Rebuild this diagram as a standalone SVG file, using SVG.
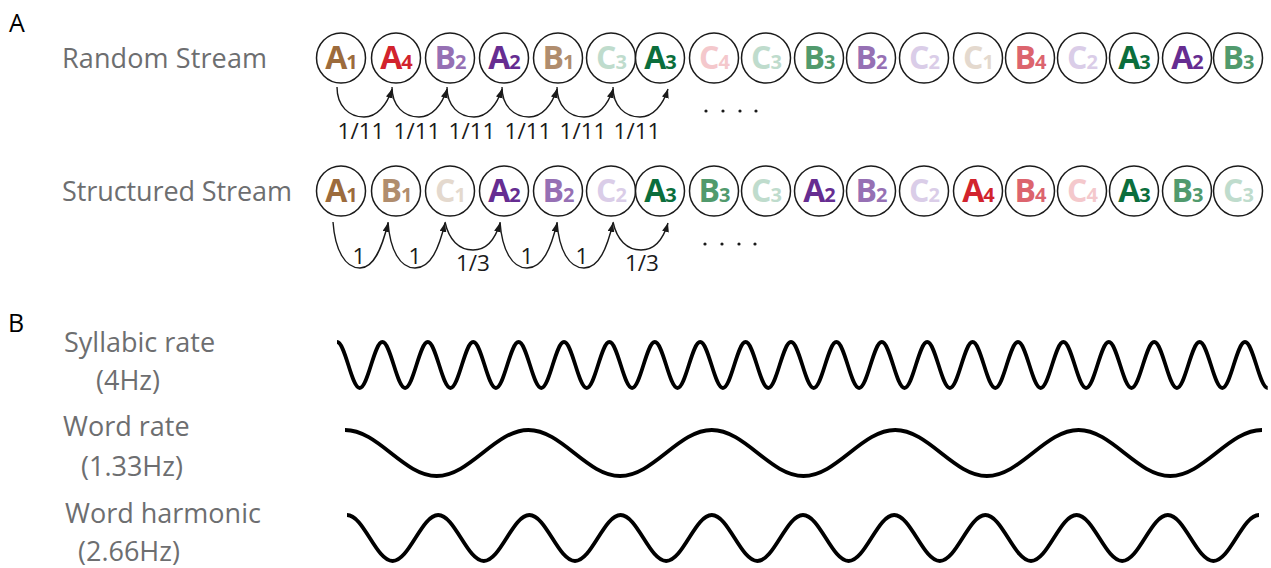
<svg xmlns="http://www.w3.org/2000/svg" width="1271" height="568" viewBox="0 0 1271 568">
<defs>
<style>
.lbl{font-family:"Open Sans","Liberation Sans",sans-serif;fill:#6d6e70;font-size:27px}
.pl{font-family:"Open Sans","Liberation Sans",sans-serif;fill:#000;font-size:25px}
.node ellipse{fill:#fff;stroke:#1a1a1a;stroke-width:1.5}
.node text{font-family:"Open Sans","Liberation Sans",sans-serif;font-weight:700;font-size:32px;text-anchor:middle;letter-spacing:-1px}
.sub{font-size:20px}
.arc{fill:none;stroke:#1a1a1a;stroke-width:1.4;marker-end:url(#ah)}
.num{font-family:"Open Sans","Liberation Sans",sans-serif;font-size:22.5px;fill:#1a1a1a;text-anchor:middle}
.dot{fill:#1a1a1a}
.wave{fill:none;stroke:#000;stroke-width:3.8}
.a1{fill:#9c6b3c}.b1{fill:#b08d6e}.c1{fill:#e4d9ce}
.a2{fill:#662d91}.b2{fill:#9670b4}.c2{fill:#dacde8}
.a3{fill:#0b6e3c}.b3{fill:#519a6d}.c3{fill:#bfdccd}
.a4{fill:#d2232d}.b4{fill:#dc646e}.c4{fill:#f4c8cc}
</style>
<marker id="ah" viewBox="0 0 9 7" refX="9" refY="3.5" markerWidth="9" markerHeight="7" markerUnits="userSpaceOnUse" orient="auto"><path d="M0,0 L9,3.5 L0,7 z" fill="#1a1a1a"/></marker>
</defs>
<rect width="1271" height="568" fill="#fff"/>

<text class="pl" x="9" y="32">A</text>
<text class="pl" x="8" y="332">B</text>
<text class="lbl" x="62" y="68" textLength="205" lengthAdjust="spacing">Random Stream</text>
<text class="lbl" x="62" y="201" textLength="230" lengthAdjust="spacing">Structured Stream</text>
<text class="lbl" x="64" y="352">Syllabic rate</text>
<text class="lbl" x="96" y="390">(4Hz)</text>
<text class="lbl" x="63" y="436">Word rate</text>
<text class="lbl" x="81" y="476">(1.33Hz)</text>
<text class="lbl" x="65" y="523">Word harmonic</text>
<text class="lbl" x="78" y="561">(2.66Hz)</text>

<g id="random-stream">
<g id="r1" class="node"><ellipse cx="341" cy="58" rx="24.5" ry="25"/><text x="341" y="69" class="a1">A<tspan class="sub">1</tspan></text></g>
<g id="r2" class="node"><ellipse cx="396" cy="58" rx="24.5" ry="25"/><text x="396" y="69" class="a4">A<tspan class="sub">4</tspan></text></g>
<g id="r3" class="node"><ellipse cx="450" cy="58" rx="24.5" ry="25"/><text x="450" y="69" class="b2">B<tspan class="sub">2</tspan></text></g>
<g id="r4" class="node"><ellipse cx="504" cy="58" rx="24.5" ry="25"/><text x="504" y="69" class="a2">A<tspan class="sub">2</tspan></text></g>
<g id="r5" class="node"><ellipse cx="558" cy="58" rx="24.5" ry="25"/><text x="558" y="69" class="b1">B<tspan class="sub">1</tspan></text></g>
<g id="r6" class="node"><ellipse cx="611" cy="58" rx="24.5" ry="25"/><text x="611" y="69" class="c3">C<tspan class="sub">3</tspan></text></g>
<g id="r7" class="node"><ellipse cx="660" cy="58" rx="24.5" ry="25"/><text x="660" y="69" class="a3">A<tspan class="sub">3</tspan></text></g>
<g id="r8" class="node"><ellipse cx="714" cy="58" rx="24.5" ry="25"/><text x="714" y="69" class="c4">C<tspan class="sub">4</tspan></text></g>
<g id="r9" class="node"><ellipse cx="766" cy="58" rx="24.5" ry="25"/><text x="766" y="69" class="c3">C<tspan class="sub">3</tspan></text></g>
<g id="r10" class="node"><ellipse cx="819" cy="58" rx="24.5" ry="25"/><text x="819" y="69" class="b3">B<tspan class="sub">3</tspan></text></g>
<g id="r11" class="node"><ellipse cx="871" cy="58" rx="24.5" ry="25"/><text x="871" y="69" class="b2">B<tspan class="sub">2</tspan></text></g>
<g id="r12" class="node"><ellipse cx="924" cy="58" rx="24.5" ry="25"/><text x="924" y="69" class="c2">C<tspan class="sub">2</tspan></text></g>
<g id="r13" class="node"><ellipse cx="978" cy="58" rx="24.5" ry="25"/><text x="978" y="69" class="c1">C<tspan class="sub">1</tspan></text></g>
<g id="r14" class="node"><ellipse cx="1030" cy="58" rx="24.5" ry="25"/><text x="1030" y="69" class="b4">B<tspan class="sub">4</tspan></text></g>
<g id="r15" class="node"><ellipse cx="1082" cy="58" rx="24.5" ry="25"/><text x="1082" y="69" class="c2">C<tspan class="sub">2</tspan></text></g>
<g id="r16" class="node"><ellipse cx="1134" cy="58" rx="24.5" ry="25"/><text x="1134" y="69" class="a3">A<tspan class="sub">3</tspan></text></g>
<g id="r17" class="node"><ellipse cx="1187" cy="58" rx="24.5" ry="25"/><text x="1187" y="69" class="a2">A<tspan class="sub">2</tspan></text></g>
<g id="r18" class="node"><ellipse cx="1238" cy="58" rx="24.5" ry="25"/><text x="1238" y="69" class="b3">B<tspan class="sub">3</tspan></text></g>
</g>

<g id="structured-stream">
<g id="s1" class="node"><ellipse cx="341" cy="191" rx="24.5" ry="25"/><text x="341" y="202" class="a1">A<tspan class="sub">1</tspan></text></g>
<g id="s2" class="node"><ellipse cx="396" cy="191" rx="24.5" ry="25"/><text x="396" y="202" class="b1">B<tspan class="sub">1</tspan></text></g>
<g id="s3" class="node"><ellipse cx="450" cy="191" rx="24.5" ry="25"/><text x="450" y="202" class="c1">C<tspan class="sub">1</tspan></text></g>
<g id="s4" class="node"><ellipse cx="504" cy="191" rx="24.5" ry="25"/><text x="504" y="202" class="a2">A<tspan class="sub">2</tspan></text></g>
<g id="s5" class="node"><ellipse cx="558" cy="191" rx="24.5" ry="25"/><text x="558" y="202" class="b2">B<tspan class="sub">2</tspan></text></g>
<g id="s6" class="node"><ellipse cx="611" cy="191" rx="24.5" ry="25"/><text x="611" y="202" class="c2">C<tspan class="sub">2</tspan></text></g>
<g id="s7" class="node"><ellipse cx="660" cy="191" rx="24.5" ry="25"/><text x="660" y="202" class="a3">A<tspan class="sub">3</tspan></text></g>
<g id="s8" class="node"><ellipse cx="714" cy="191" rx="24.5" ry="25"/><text x="714" y="202" class="b3">B<tspan class="sub">3</tspan></text></g>
<g id="s9" class="node"><ellipse cx="766" cy="191" rx="24.5" ry="25"/><text x="766" y="202" class="c3">C<tspan class="sub">3</tspan></text></g>
<g id="s10" class="node"><ellipse cx="819" cy="191" rx="24.5" ry="25"/><text x="819" y="202" class="a2">A<tspan class="sub">2</tspan></text></g>
<g id="s11" class="node"><ellipse cx="871" cy="191" rx="24.5" ry="25"/><text x="871" y="202" class="b2">B<tspan class="sub">2</tspan></text></g>
<g id="s12" class="node"><ellipse cx="924" cy="191" rx="24.5" ry="25"/><text x="924" y="202" class="c2">C<tspan class="sub">2</tspan></text></g>
<g id="s13" class="node"><ellipse cx="978" cy="191" rx="24.5" ry="25"/><text x="978" y="202" class="a4">A<tspan class="sub">4</tspan></text></g>
<g id="s14" class="node"><ellipse cx="1030" cy="191" rx="24.5" ry="25"/><text x="1030" y="202" class="b4">B<tspan class="sub">4</tspan></text></g>
<g id="s15" class="node"><ellipse cx="1082" cy="191" rx="24.5" ry="25"/><text x="1082" y="202" class="c4">C<tspan class="sub">4</tspan></text></g>
<g id="s16" class="node"><ellipse cx="1134" cy="191" rx="24.5" ry="25"/><text x="1134" y="202" class="a3">A<tspan class="sub">3</tspan></text></g>
<g id="s17" class="node"><ellipse cx="1187" cy="191" rx="24.5" ry="25"/><text x="1187" y="202" class="b3">B<tspan class="sub">3</tspan></text></g>
<g id="s18" class="node"><ellipse cx="1238" cy="191" rx="24.5" ry="25"/><text x="1238" y="202" class="c3">C<tspan class="sub">3</tspan></text></g>
</g>

<g id="connectors">
<path class="arc" d="M337,87 C337,106 349,117 364,117 C377,117 387,105 392,89"/>
<path class="arc" d="M392,87 C392,106 404,117 419,117 C432,117 442,105 447,89"/>
<path class="arc" d="M447,87 C447,106 459,117 474,117 C487,117 497,105 502,89"/>
<path class="arc" d="M502,87 C502,106 514,117 529,117 C542,117 552,105 557,89"/>
<path class="arc" d="M557,87 C557,106 569,117 584,117 C598,117 608,105 613,89"/>
<path class="arc" d="M613,87 C613,106 625,117 640,117 C653,117 663,105 668,89"/>
<path class="arc" d="M333,222 C335,250 345,268 360,268 C374,268 382,248 388,223"/>
<path class="arc" d="M388,222 C390,250 400,268 415,268 C431,268 439,248 445,223"/>
<path class="arc" d="M445,222 C449,240 459,250 473,250 C487,250 495,240 500,223"/>
<path class="arc" d="M500,222 C502,250 512,268 527,268 C543,268 551,248 557,223"/>
<path class="arc" d="M557,222 C559,250 569,268 584,268 C599,268 607,248 613,223"/>
<path class="arc" d="M613,222 C617,240 627,250 641,250 C655,250 663,240 668,223"/>
</g>

<g id="transition-labels">
<text class="num" x="361" y="139">1/11</text>
<text class="num" x="417" y="139">1/11</text>
<text class="num" x="472" y="139">1/11</text>
<text class="num" x="528" y="139">1/11</text>
<text class="num" x="583" y="139">1/11</text>
<text class="num" x="637" y="139">1/11</text>
<text class="num" x="359" y="264">1</text>
<text class="num" x="415" y="264">1</text>
<text class="num" x="473" y="271">1/3</text>
<text class="num" x="527" y="264">1</text>
<text class="num" x="582" y="264">1</text>
<text class="num" x="642" y="271">1/3</text>
<circle class="dot" cx="706" cy="111" r="1.6"/><circle class="dot" cx="723" cy="111" r="1.6"/><circle class="dot" cx="740" cy="111" r="1.6"/><circle class="dot" cx="756" cy="111" r="1.6"/>
<circle class="dot" cx="705" cy="244" r="1.6"/><circle class="dot" cx="722" cy="244" r="1.6"/><circle class="dot" cx="739" cy="244" r="1.6"/><circle class="dot" cx="755" cy="244" r="1.6"/>
</g>

<g id="waves">
<path class="wave" d="M337,342 c8.26,0 14.44,46 22.7,46 s14.44,-46 22.7,-46 s14.44,46 22.7,46 s14.44,-46 22.7,-46 s14.44,46 22.7,46 s14.44,-46 22.7,-46 s14.44,46 22.7,46 s14.44,-46 22.7,-46 s14.44,46 22.7,46 s14.44,-46 22.7,-46 s14.44,46 22.7,46 s14.44,-46 22.7,-46 s14.44,46 22.7,46 s14.44,-46 22.7,-46 s14.44,46 22.7,46 s14.44,-46 22.7,-46 s14.44,46 22.7,46 s14.44,-46 22.7,-46 s14.44,46 22.7,46 s14.44,-46 22.7,-46 s14.44,46 22.7,46 s14.44,-46 22.7,-46 s14.44,46 22.7,46 s14.44,-46 22.7,-46 s14.44,46 22.7,46 s14.44,-46 22.7,-46 s14.44,46 22.7,46 s14.44,-46 22.7,-46 s14.44,46 22.7,46 s14.44,-46 22.7,-46 s14.44,46 22.7,46 s14.44,-46 22.7,-46 s14.44,46 22.7,46 s14.44,-46 22.7,-46 s14.44,46 22.7,46 s14.44,-46 22.7,-46 s14.44,46 22.7,46 s14.44,-46 22.7,-46 s14.44,46 22.7,46 s14.44,-46 22.7,-46 s14.44,46 22.7,46"/>
<path class="wave" d="M345,430 c33.38,0 58.32,46 91.7,46 s58.32,-46 91.7,-46 s58.32,46 91.7,46 s58.32,-46 91.7,-46 s58.32,46 91.7,46 s58.32,-46 91.7,-46 s58.32,46 91.7,46 s58.32,-46 91.7,-46 s58.32,46 91.7,46 s58.32,-46 91.7,-46"/>
<path class="wave" d="M347,515 c16.6,0 29,46 45.6,46 s29,-46 45.6,-46 s29,46 45.6,46 s29,-46 45.6,-46 s29,46 45.6,46 s29,-46 45.6,-46 s29,46 45.6,46 s29,-46 45.6,-46 s29,46 45.6,46 s29,-46 45.6,-46 s29,46 45.6,46 s29,-46 45.6,-46 s29,46 45.6,46 s29,-46 45.6,-46 s29,46 45.6,46 s29,-46 45.6,-46 s29,46 45.6,46 s29,-46 45.6,-46 s29,46 45.6,46 s29,-46 45.6,-46"/>
</g>
</svg>
